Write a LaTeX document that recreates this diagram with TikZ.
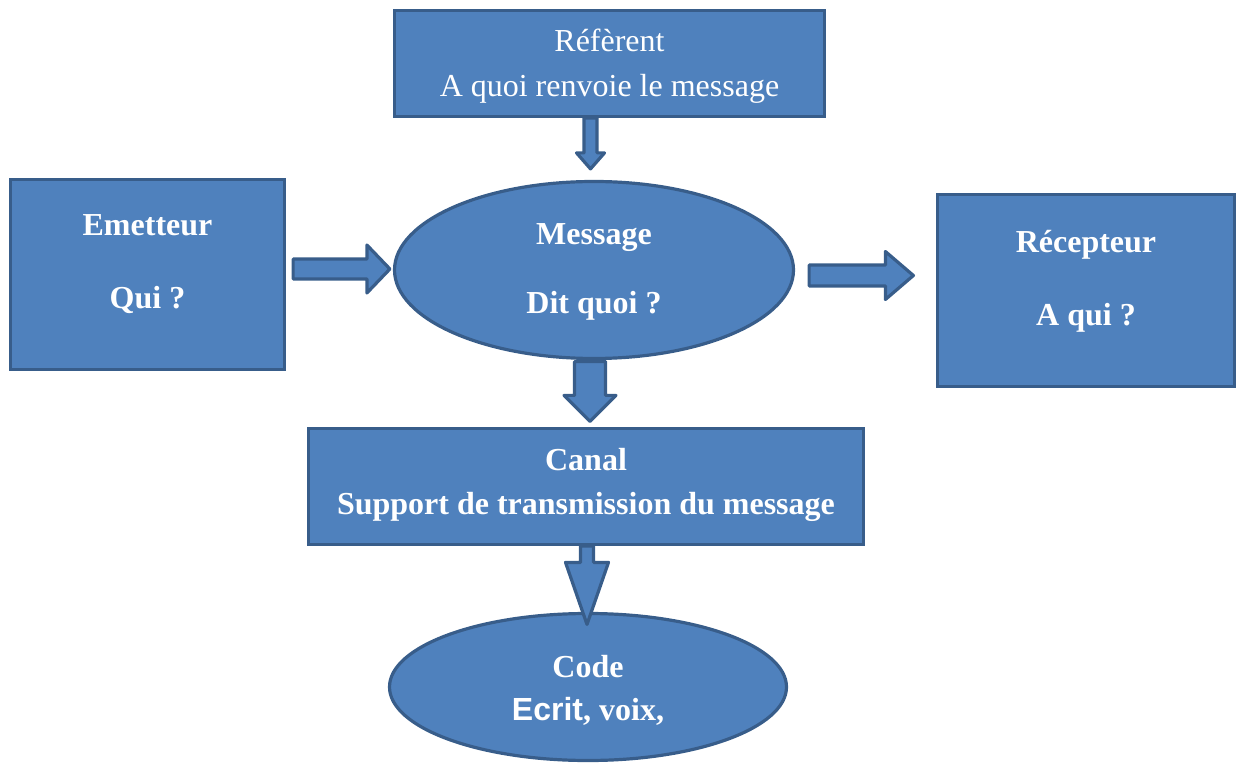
\documentclass[tikz,border=0pt]{standalone}
\usepackage{fontspec}
\setmainfont{Liberation Serif}
\setsansfont{Liberation Sans}
\usetikzlibrary{shapes.geometric,calc}
\definecolor{schemaFill}{HTML}{4F81BD}
\definecolor{schemaLine}{HTML}{385D8A}

% block arrow: start, tip, half shaft, half head, head length
\newcommand{\blockarrow}[5]{%
  \coordinate (ba-s) at #1;
  \coordinate (ba-t) at #2;
  \coordinate (ba-h) at ($(ba-t)!#5!(ba-s)$);
  \draw[blockarr] ($(ba-s)!#3!90:(ba-t)$) -- ($(ba-h)!#3!90:(ba-t)$)
    -- ($(ba-h)!#4!90:(ba-t)$) -- (ba-t) -- ($(ba-h)!#4!-90:(ba-t)$)
    -- ($(ba-h)!#3!-90:(ba-t)$) -- ($(ba-s)!#3!-90:(ba-t)$) -- cycle;
}

\begin{document}
\begin{tikzpicture}[
  x=0.5pt, y=-0.5pt,
  box/.style={draw=schemaLine, fill=schemaFill, line width=1.6pt, inner sep=0pt},
  oval/.style={box, ellipse},
  txt/.style={text=white, font=\fontsize{16}{19}\selectfont, align=center,
              inner sep=0pt},
  btxt/.style={txt, font=\fontsize{16}{19}\selectfont\bfseries},
  blockarr/.style={draw=schemaLine, fill=schemaFill, line width=1.6pt,
                   line join=round}
]
\useasboundingbox (0,0) rectangle (1237,764);

% boxes
\node[box, minimum width=215pt, minimum height=53pt] (ref) at (609.5,63.5) {};
\node[box, minimum width=137pt, minimum height=95pt] (emit) at (147.5,274.5) {};
\node[oval, minimum width=199.5pt, minimum height=88.5pt] (msg) at (594,270) {};
\node[box, minimum width=148.5pt, minimum height=96pt] (recv) at (1086,290.5) {};
\node[box, minimum width=277.5pt, minimum height=58pt] (canal) at (586,486.5) {};
\node[oval, minimum width=198.5pt, minimum height=73.5pt] (code) at (588,687) {};

% texts
\node[txt] (ref-t) at ([yshift=-1.5pt]ref.center) {Réfèrent\\[3.5pt]A quoi renvoie le message};
\node[btxt] (emit-t) at ([yshift=5pt]emit.center) {Emetteur\\[17.5pt]Qui ?};
\node[btxt] (msg-t) at ([yshift=-0.75pt]msg.center) {Message\\[15.5pt]Dit quoi ?};
\node[btxt] (recv-t) at ([yshift=4.5pt]recv.center) {Récepteur\\[17.5pt]A qui ?};
\node[btxt] (canal-t) at ([yshift=0.75pt]canal.center) {Canal\\[3pt]Support de transmission du message};
\node[btxt] (code-t) at ([yshift=-1.5pt]code.center) {Code\\[2.5pt]{\sffamily Ecrit}, voix,};

% arrows
\blockarrow{([xshift=-9.5pt]ref.south)}{([xshift=-1.75pt,yshift=5.5pt]msg.north)}{3.25pt}{7pt}{8pt}
\blockarrow{([xshift=3.5pt,yshift=2.75pt]emit.east)}{([xshift=-1.5pt,yshift=0.5pt]msg.west)}{5pt}{12pt}{11.5pt}
\blockarrow{([xshift=7pt,yshift=-2.75pt]msg.east)}{([xshift=-11.25pt,yshift=7.5pt]recv.west)}{5.25pt}{12pt}{14pt}
\blockarrow{([xshift=-2pt,yshift=-0.75pt]msg.south)}{([xshift=2pt,yshift=2.75pt]canal.north)}{7.75pt}{13pt}{13pt}
\blockarrow{([xshift=0.5pt]canal.south)}{([xshift=-0.5pt,yshift=-6.25pt]code.north)}{3.25pt}{10.75pt}{31pt}
\end{tikzpicture}
\end{document}
